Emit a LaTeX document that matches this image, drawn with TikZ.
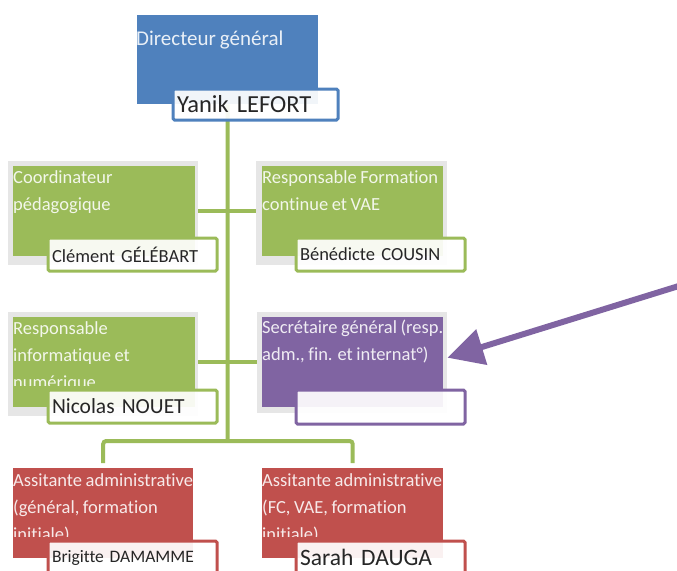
\documentclass[tikz,border=0pt]{standalone}
\usepackage{fontspec}
\setmainfont{Carlito}[Ligatures=NoCommon,WordSpace=0.85]
\usetikzlibrary{arrows.meta,backgrounds}
\definecolor{cblue}{HTML}{4F81BD}
\definecolor{cgreen}{HTML}{9BBB59}
\definecolor{cred}{HTML}{C0504D}
\definecolor{cpurple}{HTML}{8064A2}
\definecolor{cframe}{HTML}{E6E6E6}
\definecolor{cname}{HTML}{262626}
\begin{document}
\begin{tikzpicture}[x=1pt,y=-1pt,
  framebox/.style={rectangle,fill=cframe,draw=none,anchor=north west,inner sep=0},
  colbox/.style={rectangle,fill=#1,draw=none,anchor=north west,inner sep=0},
  title/.style={anchor=north west,inner sep=0,align=left,text=white,text opacity=0.88,
    font=\fontsize{18.5}{27}\selectfont},
  namebox/.style={rectangle,draw=#1,line width=3,fill=white,fill opacity=0.92,text opacity=1,
    anchor=north west,inner xsep=4,inner ysep=0,align=left,text=cname,rounded corners=1.5},
  conn/.style={draw=cgreen,line width=4,rounded corners=3},
  parrow/.style={draw=cpurple,line width=6,-{Triangle[length=36,width=36]}}
]
\useasboundingbox (0,0) rectangle (677,570);

% Directeur
\node[colbox=cblue,minimum width=181,minimum height=89] (blue) at (137,15) {};
\begin{scope}
\clip (blue.north west) rectangle (blue.south east);
\node[title,font=\fontsize{21}{27}\selectfont] (tblue) at (136,31) {Directeur général};
\end{scope}
\node[namebox=cblue,minimum height=31,text width=157,font=\fontsize{24.5}{28}\selectfont] (nblue) at (171.5,87.5) {Yanik LEFORT};

% row 1
\node[framebox,minimum width=190,minimum height=104] (f1) at (8,161) {};
\node[colbox=cgreen,minimum width=182,minimum height=90] (g1) at (13,166) {};
\begin{scope}
\clip (g1.north west) rectangle ([yshift=-68pt]g1.north east);
\node[title] (t1) at (13,170) {Coordinateur\\pédagogique};
\end{scope}
\node[namebox=cgreen,minimum height=33,text width=161,font=\fontsize{18.5}{22}\selectfont] (n1) at (46.5,236.5) {Clément GÉLÉBART};

\node[framebox,minimum width=191,minimum height=104] (f2) at (256,161) {};
\node[colbox=cgreen,minimum width=181,minimum height=90] (g2) at (262,166) {};
\begin{scope}
\clip (g2.north west) rectangle ([yshift=-68pt]g2.north east);
\node[title] (t2) at (262,170) {Responsable Formation\\continue et VAE};
\end{scope}
\node[namebox=cgreen,minimum height=33,text width=161,font=\fontsize{18.5}{22}\selectfont] (n2) at (294.5,236.5) {Bénédicte COUSIN};

% row 2
\node[framebox,minimum width=190,minimum height=104] (f3) at (8,312) {};
\node[colbox=cgreen,minimum width=182,minimum height=90] (g3) at (13,317) {};
\begin{scope}
\clip (g3.north west) rectangle ([yshift=-68pt]g3.north east);
\node[title] (t3) at (13,321) {Responsable\\informatique et\\numérique};
\end{scope}
\node[namebox=cgreen,minimum height=33,text width=161,font=\fontsize{21.5}{24}\selectfont] (n3) at (46.5,388.5) {Nicolas NOUET};

\node[framebox,minimum width=190,minimum height=101] (f4) at (257,312) {};
\node[colbox=cpurple,minimum width=181,minimum height=90] (p) at (262,317) {};
\begin{scope}
\clip (p.north west) rectangle ([yshift=-68pt]p.north east);
\node[title] (t4) at (262,320) {Secrétaire général (resp.\\adm., fin. et internat°)};
\end{scope}
\node[namebox=cpurple,minimum height=34,text width=161] (n4) at (294.5,388.5) {};

% row 3
\node[colbox=cred,minimum width=180,minimum height=90] (r1) at (13,468) {};
\begin{scope}
\clip (r1.north west) rectangle ([yshift=-68pt]r1.north east);
\node[title] (t5) at (13,473) {Assitante administrative\\(général, formation\\initiale)};
\end{scope}
\node[namebox=cred,minimum height=33,text width=161,font=\fontsize{17.5}{22}\selectfont] (n5) at (46.5,539.5) {Brigitte DAMAMME};

\node[colbox=cred,minimum width=181,minimum height=90] (r2) at (262,468) {};
\begin{scope}
\clip (r2.north west) rectangle ([yshift=-68pt]r2.north east);
\node[title] (t6) at (262,473) {Assitante administrative\\(FC, VAE, formation\\initiale)};
\end{scope}
\node[namebox=cred,minimum height=33,text width=161,font=\fontsize{23.5}{26}\selectfont] (n6) at (294.5,539.5) {Sarah DAUGA};

% connectors
\coordinate (jn) at (227.5,441);
\begin{scope}[on background layer]
\draw[conn] (blue.south) -- (jn);
\draw[conn] (g1.east) -- (g2.west);
\draw[conn] (g3.east) -- (p.west);
\draw[conn] ([yshift=5pt]r1.north) |- (jn) -| ([yshift=5pt]r2.north);
\end{scope}

% arrow
\coordinate (astart) at (682,285);
\draw[parrow] (astart) -- ([yshift=5pt]f4.east);
\end{tikzpicture}
\end{document}
